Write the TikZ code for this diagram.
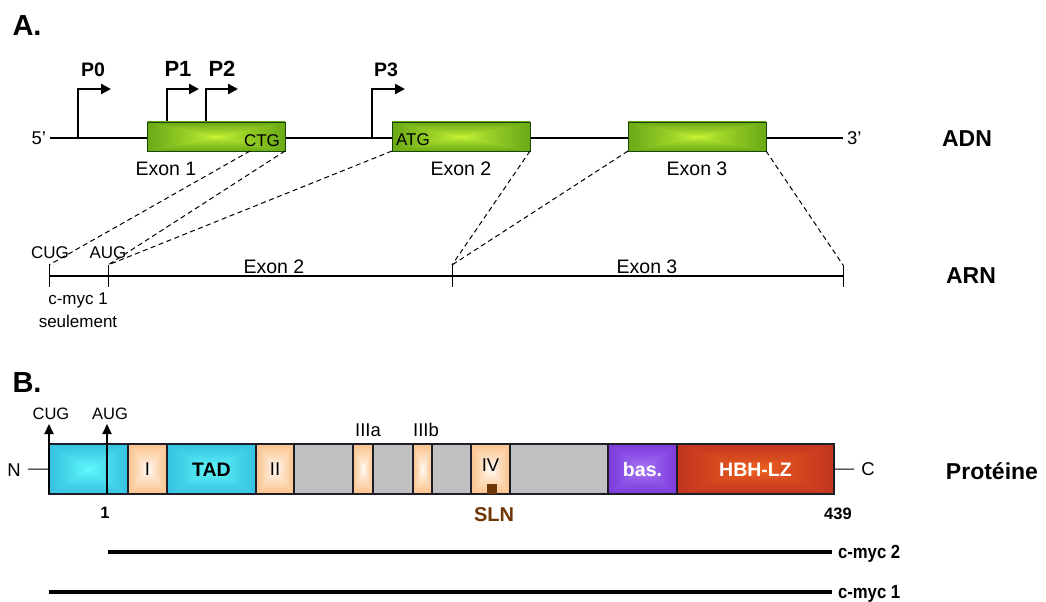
\documentclass[tikz,border=0pt]{standalone}
\usepackage{fontspec}
\setmainfont{Liberation Sans}
\usetikzlibrary{arrows.meta}
\newcommand\fsz[1]{\fontsize{#1bp}{#1bp}\selectfont}
% rectangle ("box") gradient: centre colour #2 #3 #4, (edge - centre) #5 #6 #7
\newcommand\rectshade[7]{%
\pgfdeclarefunctionalshading{#1}{\pgfpoint{-50bp}{-50bp}}{\pgfpoint{50bp}{50bp}}{}{%
abs exch abs 2 copy sub abs add add 100 div 0.75 exp
dup #5 mul #2 add exch
dup #6 mul #3 add exch
#7 mul #4 add
}}
\rectshade{exsh}{0.800}{0.975}{0.220}{-0.643}{-0.524}{-0.220}
\rectshade{cysh}{0.400}{1}{1}{-0.320}{-0.410}{-0.200}
\rectshade{orsh}{1}{1}{1}{-0.025}{-0.400}{-0.760}
\rectshade{push}{0.660}{0.490}{0.970}{-0.290}{-0.440}{-0.190}
\rectshade{rdsh}{0.950}{0.400}{0.120}{-0.330}{-0.330}{0.010}
\definecolor{exB}{RGB}{25,70,0}
\definecolor{grF}{RGB}{192,192,192}
\definecolor{brn}{RGB}{110,55,5}
\definecolor{segB}{RGB}{30,30,40}
\tikzset{
  lbl/.style={inner sep=0pt, outer sep=0pt, anchor=base},
  exonbox/.style={inner sep=0pt, outer sep=0pt, minimum height=29bp, anchor=north west,
    shade, shading=exsh, draw=exB, line width=0.8bp},
  seg/.style={inner sep=0pt, outer sep=0pt, minimum height=50bp, anchor=north west,
    draw=segB, line width=1.1bp},
  cyanseg/.style={seg, shade, shading=cysh},
  orseg/.style={seg, shade, shading=orsh},
  grseg/.style={seg, fill=grF},
  puseg/.style={seg, shade, shading=push},
  rdseg/.style={seg, shade, shading=rdsh},
  strand/.style={line width=2.7bp},
  tick/.style={line width=1bp},
  prom/.style={line width=2.6bp, -{Triangle[length=10bp,width=10bp]}},
  upar/.style={line width=2bp, -{Triangle[length=10bp,width=9bp]}},
  dsh/.style={line width=1bp, dash pattern=on 5bp off 3.5bp},
  iso/.style={line width=4bp},
}
\begin{document}
\begin{tikzpicture}[x=1bp,y=-1bp]
\useasboundingbox (0,0) rectangle (1046,602);
% ---------------- A ----------------
\node[lbl, font=\fsz{29}\bfseries] (la) at (27,35.4) {A.};
\coordinate (d5) at (50,138);
\coordinate (d3) at (843,138);
\draw[strand] (d5) -- (d3);
\node[lbl, font=\fsz{18.5}, anchor=base east] (l5) at (46,145) {5’};
\node[lbl, font=\fsz{18.5}, anchor=base west] (l3) at (847,145) {3’};
% promoters
\coordinate (p0b) at (78,138);   \coordinate (p0e) at (111,89);
\coordinate (p1b) at (167,122);  \coordinate (p1e) at (199,89);
\coordinate (p2b) at (206,122);  \coordinate (p2e) at (238,89);
\coordinate (p3b) at (372,138);  \coordinate (p3e) at (405,89);
\draw[prom] (p0b) |- (p0e);
\draw[prom] (p1b) |- (p1e);
\draw[prom] (p2b) |- (p2e);
\draw[prom] (p3b) |- (p3e);
\node[lbl, font=\fsz{19.5}\bfseries] (lp0) at (93,77) {P0};
\node[lbl, font=\fsz{22}\bfseries] (lp1) at (178,77) {P1};
\node[lbl, font=\fsz{22}\bfseries] (lp2) at (222,77) {P2};
\node[lbl, font=\fsz{19.5}\bfseries] (lp3) at (386,77) {P3};
% exons
\node[exonbox, minimum width=138bp] (ex1) at (147,122) {};
\node[exonbox, minimum width=138bp] (ex2) at (392,122) {};
\node[exonbox, minimum width=138bp] (ex3) at (628,122) {};
\node[lbl, font=\fsz{17}] (ctg) at (262,147) {CTG};
\node[lbl, font=\fsz{17}] (atg) at (413,146) {ATG};
\node[lbl, font=\fsz{19.5}] (le1) at (166,175.3) {Exon 1};
\node[lbl, font=\fsz{19.5}] (le2) at (461,175.3) {Exon 2};
\node[lbl, font=\fsz{19.5}] (le3) at (697,175.3) {Exon 3};
\node[lbl, font=\fsz{23}\bfseries] (ladn) at (967,147) {ADN};
% RNA
\coordinate (r5) at (49,276);
\coordinate (r3) at (843,276);
\draw[strand] (r5) -- (r3);
\coordinate (t1t) at (49,265);  \coordinate (t1b) at (49,287);
\coordinate (t2t) at (108,265); \coordinate (t2b) at (108,287);
\coordinate (t3t) at (452,265); \coordinate (t3b) at (452,287);
\coordinate (t4t) at (843,265); \coordinate (t4b) at (843,287);
\draw[tick] (t1t) -- (t1b);
\draw[tick] (t2t) -- (t2b);
\draw[tick] (t3t) -- (t3b);
\draw[tick] (t4t) -- (t4b);
\coordinate (ctgb) at (250,151);
\draw[dsh] (ctgb) -- (t1t);
\draw[dsh] (ex1.south east) -- (t2t);
\draw[dsh] (ex2.south west) -- (t2t);
\draw[dsh] (ex2.south east) -- (t3t);
\draw[dsh] (ex3.south west) -- (t3t);
\draw[dsh] (ex3.south east) -- (t4t);
\node[lbl, font=\fsz{17}] (rcug) at (50,259) {CUG};
\node[lbl, font=\fsz{17}] (raug) at (108,259) {AUG};
\node[lbl, font=\fsz{19.5}] (re2) at (274,273.5) {Exon 2};
\node[lbl, font=\fsz{19.5}] (re3) at (647,273.5) {Exon 3};
\node[lbl, font=\fsz{17}] (rm1) at (78,305) {c-myc 1};
\node[lbl, font=\fsz{17}] (rse) at (78,327) {seulement};
\node[lbl, font=\fsz{23}\bfseries] (larn) at (971,284) {ARN};
% ---------------- B ----------------
\node[lbl, font=\fsz{29}\bfseries] (lb) at (27,392.4) {B.};
\coordinate (nl) at (28,469);
\coordinate (cl) at (854,469);
\node[cyanseg, minimum width=79bp]  (s1)  at (49,444) {};
\node[orseg,   minimum width=39bp]  (s2)  at (128,444) {};
\node[cyanseg, minimum width=89bp]  (s3)  at (167,444) {};
\node[orseg,   minimum width=38bp]  (s4)  at (256,444) {};
\node[grseg,   minimum width=59bp]  (s5)  at (294,444) {};
\node[orseg,   minimum width=20bp]  (s6)  at (353,444) {};
\node[grseg,   minimum width=40bp]  (s7)  at (373,444) {};
\node[orseg,   minimum width=19bp]  (s8)  at (413,444) {};
\node[grseg,   minimum width=39bp]  (s9)  at (432,444) {};
\node[orseg,   minimum width=39bp]  (s10) at (471,444) {};
\node[grseg,   minimum width=98bp]  (s11) at (510,444) {};
\node[puseg,   minimum width=69bp]  (s12) at (608,444) {};
\node[rdseg,   minimum width=157bp] (s13) at (677,444) {};
\draw[line width=1bp] (nl) -- (s1.west);
\draw[line width=1bp] (s13.east) -- (cl);
\node[lbl, font=\fsz{18.5}] (ln) at (14,476.5) {N};
\node[lbl, font=\fsz{18.5}] (lc) at (868,475.5) {C};
\node[inner sep=0pt, outer sep=0pt, fill=brn, minimum width=10bp, minimum height=10bp] (sq) at (492,489) {};
\node[lbl, font=\fsz{18.5}] (li) at (147.5,475.5) {I};
\node[lbl, font=\fsz{19.5}\bfseries] (ltad) at (211.5,476) {TAD};
\node[lbl, font=\fsz{18.5}] (lii) at (275,475.5) {II};
\node[lbl, font=\fsz{18.5}] (liv) at (490.5,471.5) {IV};
\node[lbl, font=\fsz{19.5}\bfseries, text=white] (lbas) at (642.5,476) {bas.};
\node[lbl, font=\fsz{19.5}\bfseries, text=white] (lhbh) at (755.5,476) {HBH-LZ};
\node[lbl, font=\fsz{18.5}] (l3a) at (368,436) {IIIa};
\node[lbl, font=\fsz{18.5}] (l3b) at (426,436) {IIIb};
\coordinate (cugb) at (49,494);  \coordinate (cugt) at (49,424);
\coordinate (augb) at (107,494); \coordinate (augt) at (107,424);
\draw[upar] (cugb) -- (cugt);
\draw[upar] (augb) -- (augt);
\node[lbl, font=\fsz{16.5}] (pcug) at (51,419) {CUG};
\node[lbl, font=\fsz{16.5}] (paug) at (110,419) {AUG};
\node[lbl, font=\fsz{16.5}\bfseries] (l1) at (105,518) {1};
\node[lbl, font=\fsz{16.5}\bfseries] (l439) at (838,519) {439};
\node[lbl, font=\fsz{20}\bfseries, text=brn] (lsln) at (494,521) {SLN};
\node[lbl, font=\fsz{23}\bfseries] (lprot) at (992,479) {Protéine};
% isoforms
\coordinate (m2a) at (108,552); \coordinate (m2b) at (832,552);
\coordinate (m1a) at (49,592);  \coordinate (m1b) at (832,592);
\draw[iso] (m2a) -- (m2b);
\draw[iso] (m1a) -- (m1b);
\node[lbl, anchor=base west, font=\fsz{19}\bfseries] (lm2) at (838,558) {\scalebox{0.88}[1]{c-myc 2}};
\node[lbl, anchor=base west, font=\fsz{19}\bfseries] (lm1) at (838,598) {\scalebox{0.88}[1]{c-myc 1}};
\end{tikzpicture}
\end{document}
